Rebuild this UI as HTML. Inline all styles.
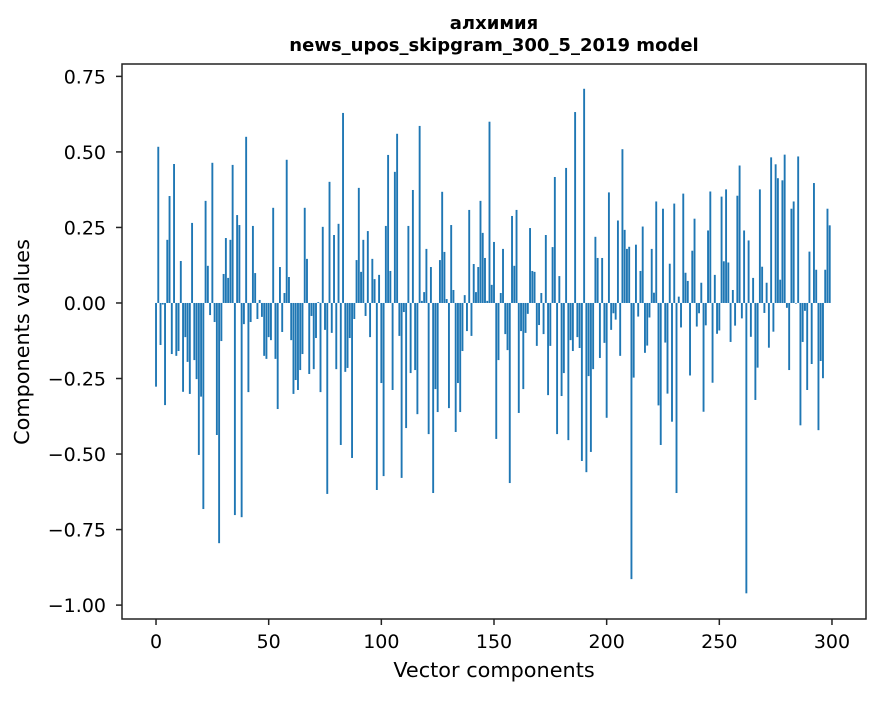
<!DOCTYPE html>
<html><head><meta charset="utf-8"><style>
body{margin:0;background:#fff;}
svg text{font-family:"DejaVu Sans","Liberation Sans",sans-serif;}
</style></head><body>
<svg id="chart" width="880" height="696" xmlns="http://www.w3.org/2000/svg">
<rect x="0" y="0" width="880" height="696" fill="#fff"/>
<text x="494" y="29" text-anchor="middle" font-size="18" font-weight="bold">алхимия</text>
<text x="494" y="51" text-anchor="middle" font-size="18" font-weight="bold">news_upos_skipgram_300_5_2019 model</text>
<g id="bars"></g>
<g id="axes"></g>
<text x="494" y="677" text-anchor="middle" font-size="20.8">Vector components</text>
<text transform="translate(29,342) rotate(-90)" text-anchor="middle" font-size="20.8">Components values</text>
</svg>
<script>
const values = [
-0.277,0.517,-0.139,-0.005,-0.338,0.209,0.354,-0.169,0.46,-0.175,
-0.159,0.139,-0.294,-0.113,-0.195,-0.301,0.265,-0.189,-0.252,-0.503,
-0.31,-0.682,0.338,0.123,-0.04,0.464,-0.063,-0.437,-0.795,-0.126,
0.096,0.215,0.083,0.209,0.457,-0.702,0.291,0.258,-0.709,-0.07,
0.55,-0.295,-0.063,0.255,0.099,-0.053,0.01,-0.046,-0.175,-0.185,
-0.113,-0.123,0.315,-0.185,-0.351,0.119,-0.096,0.033,0.474,0.086,
-0.123,-0.301,-0.255,-0.288,-0.222,-0.169,0.315,0.146,-0.235,-0.043,
-0.219,-0.116,0.003,-0.295,0.252,-0.089,-0.632,0.401,-0.099,0.225,
-0.219,0.262,-0.47,0.629,-0.228,-0.215,-0.116,-0.513,-0.053,0.142,
0.381,0.103,0.209,-0.043,0.238,-0.113,0.146,0.079,-0.619,0.093,
-0.265,-0.573,0.255,0.49,0.106,-0.288,0.434,0.56,-0.109,-0.579,
-0.03,-0.414,0.255,-0.232,0.374,-0.222,-0.368,0.586,0.007,0.036,
0.179,-0.434,0.119,-0.629,-0.285,-0.361,0.142,0.368,0.169,0.013,
-0.348,0.258,0.043,-0.427,-0.265,-0.361,-0.159,0.026,-0.093,0.308,
-0.109,0.129,0.036,0.119,0.338,0.232,0.149,0.007,0.6,0.06,
0.202,-0.45,-0.189,0.033,0.179,-0.103,-0.156,-0.596,0.288,0.123,
0.308,-0.364,-0.093,-0.285,-0.099,-0.036,0.248,0.106,0.103,-0.142,
-0.073,0.033,-0.103,0.225,-0.305,-0.142,0.185,0.417,-0.434,0.089,
-0.308,-0.232,0.447,-0.454,-0.123,-0.159,0.632,-0.113,-0.149,-0.523,
0.709,-0.56,-0.242,-0.493,-0.219,0.219,0.149,-0.182,0.149,-0.132,
-0.38,0.366,-0.089,-0.034,-0.055,0.273,-0.175,0.509,0.242,0.179,
0.186,-0.914,-0.247,0.193,-0.045,0.106,0.253,-0.165,-0.141,-0.048,
0.179,0.034,0.336,-0.339,-0.47,0.312,-0.131,-0.3,0.13,-0.393,
0.329,-0.629,0.021,-0.081,0.362,0.1,0.073,-0.24,0.173,0.279,
-0.078,-0.034,0.067,-0.36,-0.074,0.24,0.369,-0.264,0.093,-0.102,
-0.091,0.352,0.138,0.376,0.134,-0.129,0.043,-0.075,0.355,0.455,
-0.051,0.24,-0.961,0.207,-0.112,0.083,-0.321,-0.214,0.376,0.12,
-0.033,0.067,-0.148,0.482,-0.095,0.459,0.413,0.077,0.406,0.491,
-0.016,-0.222,0.312,0.336,-0.002,0.485,-0.405,-0.129,-0.026,-0.288,
0.17,-0.202,0.397,0.11,-0.421,-0.192,-0.249,0.11,0.312,0.257
];
const xTicks = [0,50,100,150,200,250,300];
const yTicks = [-1.00,-0.75,-0.50,-0.25,0.00,0.25,0.50,0.75];
const yTickLabels = ["\u22121.00","\u22120.75","\u22120.50","\u22120.25","0.00","0.25","0.50","0.75"];

const NS="http://www.w3.org/2000/svg";
const L=122,R=866,T=64,B=619;
const xMin=-15.1,xMax=315.1,yMin=-1.046,yMax=0.791;
const xs=v=>L+(v-xMin)/(xMax-xMin)*(R-L);
const ys=v=>B-(v-yMin)/(yMax-yMin)*(B-T);
function mk(tag,attrs,parent){const e=document.createElementNS(NS,tag);for(const k in attrs)e.setAttribute(k,attrs[k]);parent.appendChild(e);return e;}
const bars=document.getElementById('bars');
values.forEach((v,i)=>{
  const x0=xs(i-0.42),x1=xs(i+0.42);
  const y0=ys(Math.max(v,0)),y1=ys(Math.min(v,0));
  const r=mk('rect',{x:x0,y:y0,width:x1-x0,height:Math.max(y1-y0,0.3),fill:'#1f77b4'},bars);
  
  
});
const ax=document.getElementById('axes');
const frame=mk('rect',{x:L,y:T,width:R-L,height:B-T,fill:'none',stroke:'#222','stroke-width':1.5},ax);


xTicks.forEach(t=>{
  const x=xs(t);
  const tk=mk('line',{x1:x,x2:x,y1:B,y2:B+6,stroke:'#222','stroke-width':1.5},ax);
  
  
  const lb=mk('text',{x:x,y:648,'text-anchor':'middle','font-size':19},ax);
  lb.textContent=t;
  
  
});
yTicks.forEach((t,i)=>{
  const y=ys(t);
  const tk=mk('line',{x1:L-6,x2:L,y1:y,y2:y,stroke:'#222','stroke-width':1.5},ax);
  
  
  const lb=mk('text',{x:L-16,y:y+7,'text-anchor':'end','font-size':19},ax);
  lb.textContent=yTickLabels[i];
  
  
});
</script>
</body></html>
